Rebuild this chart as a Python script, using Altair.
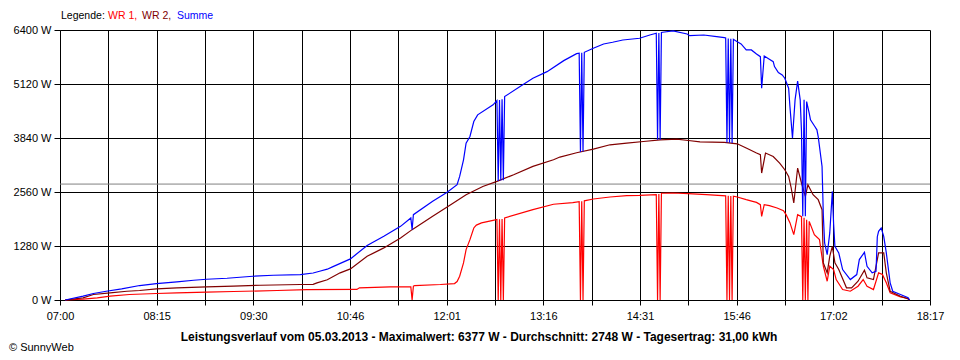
import altair as alt
import pandas as pd

# ---------------- data ----------------
WR1_TIME = ["07:04","07:18","07:29","07:39","07:54","08:15","08:31","08:54","09:15","09:49",
            "10:12","10:51","10:53","11:17","11:33","11:34","11:35","11:36","11:56","12:07",
            "12:09","12:11","12:14","12:16","12:19","12:22","12:24","12:28","12:37","12:40",
            "12:41","12:42","12:43","12:44","12:45","12:46","13:08","13:24","13:39","13:44",
            "13:45","13:46","13:47","13:48","13:55","14:08","14:21","14:31","14:44","14:45",
            "14:46","14:47","14:48","14:57","15:09","15:23","15:38","15:39","15:40","15:41",
            "15:42","15:43","15:44","15:47","15:54","15:59","16:02","16:05","16:06","16:08",
            "16:12","16:18","16:23","16:25","16:28","16:31","16:34","16:37","16:38","16:39",
            "16:40","16:41","16:42","16:43","16:47","16:51","16:54","16:57","16:59","17:02",
            "17:04","17:09","17:15","17:21","17:25","17:28","17:33","17:37","17:40","17:43",
            "17:46","17:54","18:00","18:01"]
WR1_W = [0,20,52,90,130,154,170,185,201,225,
         248,250,289,312,312,0,330,343,367,390,
         438,563,880,1195,1431,1708,1775,1827,1888,1910,
         0,1915,0,1920,0,1945,2141,2270,2310,2330,
         0,2340,0,2350,2394,2442,2472,2480,2500,0,
         2510,0,2530,2536,2520,2496,2470,0,2468,0,
         2465,0,2460,2442,2378,2338,2314,2260,1983,2260,
         2236,2181,2118,2023,1834,1550,2023,1976,0,1950,
         0,1900,0,1864,1550,1431,800,445,800,722,
         485,248,208,327,485,327,248,644,603,407,
         170,75,35,0]

WR2_TIME = ["07:04","07:18","07:26","07:39","07:52","08:02","08:15","08:31","08:54","09:15",
            "09:36","10:07","10:17","10:20","10:28","10:38","10:46","10:59","11:12","11:25",
            "11:34","11:50","12:04","12:16","12:29","12:40","12:53","13:08","13:24","13:29",
            "13:42","13:55","14:08","14:21","14:34","14:47","15:00","15:09","15:18","15:37",
            "15:47","15:54","16:02","16:05","16:06","16:09","16:15","16:20","16:24","16:27",
            "16:29","16:31","16:33","16:34","16:37","16:40","16:42","16:46","16:50","16:53",
            "16:54","16:57","16:59","17:01","17:03","17:06","17:12","17:16","17:21","17:26",
            "17:28","17:33","17:37","17:41","17:43","17:46","17:54","18:00","18:01"]
WR2_W = [0,52,130,170,208,225,265,289,312,327,
         350,367,370,407,480,644,738,1036,1235,1472,
         1668,1983,2260,2496,2692,2811,2969,3166,3324,3388,
         3490,3577,3679,3719,3757,3797,3814,3781,3750,3734,
         3703,3601,3483,3443,3010,3483,3402,3246,3088,2929,
         2655,2300,2851,3128,2773,2456,2733,2496,2378,2141,
         880,644,1036,1273,880,722,289,289,445,705,
         525,485,1117,1117,644,208,90,28,0]

SUM_TIME = ["07:04","07:18","07:26","07:36","07:48","08:02","08:15","08:31","08:44","08:54",
            "09:10","09:30","09:46","10:07","10:17","10:22","10:28","10:32","10:46","10:59",
            "11:12","11:25","11:33","11:34","11:35","11:50","12:01","12:09","12:11","12:14",
            "12:16","12:19","12:22","12:25","12:37","12:40","12:41","12:42","12:43","12:44",
            "12:45","12:46","12:58","13:08","13:19","13:32","13:42","13:44","13:45","13:46",
            "13:47","13:48","13:55","14:03","14:10","14:18","14:31","14:39","14:44","14:45",
            "14:46","14:47","14:48","14:49","14:57","15:08","15:10","15:21","15:31","15:37",
            "15:38","15:39","15:40","15:41","15:42","15:43","15:44","15:47","15:50","15:54",
            "15:58","16:02","16:05","16:06","16:08","16:12","16:15","16:16","16:19","16:22",
            "16:24","16:27","16:28","16:30","16:32","16:34","16:36","16:37","16:38","16:39",
            "16:40","16:41","16:43","16:44","16:47","16:49","16:50","16:53","16:54","16:55",
            "16:57","16:59","17:01","17:02","17:03","17:06","17:09","17:15","17:20","17:22",
            "17:26","17:28","17:32","17:35","17:36","17:37","17:39","17:41","17:43","17:46",
            "17:48","17:54","18:00","18:01"]
SUM_W = [0,90,154,208,265,343,390,430,468,492,
         516,563,587,603,640,681,730,785,975,1290,
         1510,1746,1945,1668,2023,2338,2550,2733,2929,3324,
         3719,3875,4230,4389,4626,4727,2820,4740,2830,4760,
         2840,4822,5058,5257,5413,5674,5840,5850,3510,5860,
         3520,5872,5967,6069,6109,6163,6204,6282,6322,3797,
         6330,3800,6340,6346,6377,6305,6265,6282,6242,6218,
         6210,3734,6200,3730,6190,3720,6180,6123,6069,5927,
         5927,5832,5768,5021,5785,5707,5650,5532,5390,5335,
         5257,5021,4585,3838,4744,5190,4744,3994,1983,4744,
         1983,4704,4429,4271,4130,4034,3875,3166,2000,1353,
         1077,1590,2574,1800,1273,1117,722,485,603,958,
         1131,800,644,681,1500,1628,1708,1510,1117,407,
         208,130,52,0]

SERIES = ["WR 1", "WR 2", "Summe"]
COLORS = ["#FF0000", "#800000", "#0000FF"]
TICK_LABELS = ["07:00","08:15","09:30","10:46","12:01","13:16","14:31","15:46","17:02","18:17"]
Y_TICKS = [0, 1280, 2560, 3840, 5120, 6400]
AVERAGE_W = 2748
LEGEND_PREFIX = "Legende:"
LEGEND_ITEMS = ["WR 1,", "WR 2,", "Summe"]
FOOTER = ("Leistungsverlauf vom 05.03.2013 - Maximalwert: 6377 W - Durchschnitt: 2748 W"
          " - Tagesertrag: 31,00 kWh")
COPYRIGHT = "© SunnyWeb"

# ---------------- table ----------------
def to_min(t):
    h, m = t.split(":")
    return int(h) * 60 + int(m)

rows = []
for name, times, vals in [("WR 1", WR1_TIME, WR1_W), ("WR 2", WR2_TIME, WR2_W), ("Summe", SUM_TIME, SUM_W)]:
    for i, (t, v) in enumerate(zip(times, vals)):
        rows.append({"series": name, "min": to_min(t), "W": v, "i": i})
df = pd.DataFrame(rows)

X0 = to_min(TICK_LABELS[0])
X1 = to_min(TICK_LABELS[-1])
STEP = (X1 - X0) / 18
x_values = [X0 + k * STEP for k in range(19)]
labels_js = "[" + ",".join("'" + s + "'" for s in TICK_LABELS) + "]"
label_expr = (f"(round((datum.value-{X0})/{STEP}) % 2 == 0) ? "
              f"{labels_js}[round((datum.value-{X0})/{STEP})/2] : ''")

FONT = "Liberation Sans"

x_enc = alt.X("min:Q", scale=alt.Scale(domain=[X0, X1], nice=False, zero=False),
              axis=alt.Axis(values=x_values, labelExpr=label_expr, title=None, grid=True,
                            tickSize=5, labelPadding=5, labelFlush=False, labelOverlap=False))
y_enc = alt.Y("W:Q", scale=alt.Scale(domain=[0, 6400], nice=False),
              axis=alt.Axis(values=Y_TICKS, labelExpr="datum.value + ' W'", title=None,
                            grid=True, tickSize=6, labelPadding=3))

avg = alt.Chart(pd.DataFrame({"W": [AVERAGE_W]})).mark_rule(
    color="#808080", strokeWidth=1).encode(y=y_enc)

lines = []
for name, col in zip(SERIES, COLORS):
    lines.append(
        alt.Chart(df).transform_filter(alt.datum.series == name)
        .mark_line(color=col, strokeWidth=1.2, interpolate="linear")
        .encode(x=x_enc, y=y_enc, order="i:Q")
    )

def txt(s, x, y, color="#000000", size=11, bold=False, align="left"):
    return alt.Chart(pd.DataFrame({"t": [s]})).mark_text(
        align=align, baseline="alphabetic", font=FONT, fontSize=size,
        fontWeight="bold" if bold else "normal", color=color
    ).encode(x=alt.value(x), y=alt.value(y), text="t:N")

texts = [
    txt(LEGEND_PREFIX, 1, -11, size=10.5),
    txt(LEGEND_ITEMS[0], 48, -11, COLORS[0], size=10.5),
    txt(LEGEND_ITEMS[1], 82, -11, COLORS[1], size=10.5),
    txt(LEGEND_ITEMS[2], 117, -11, COLORS[2], size=10.5),
    txt(FOOTER, 419, 311, bold=True, align="center", size=12),
    txt(COPYRIGHT, -51, 321),
]

chart = alt.layer(avg, *lines, *texts).properties(
    width=870, height=270,
    padding={"left": 52, "top": 22, "right": 22, "bottom": 52},
    autosize=alt.AutoSizeParams(type="none"),
    background="white",
).configure_view(stroke=None).configure_axis(
    gridColor="#000000", gridOpacity=1, gridWidth=1,
    domainColor="#000000", domainWidth=1,
    tickColor="#000000", tickWidth=1,
    labelColor="#000000", labelFont=FONT, labelFontSize=11,
)

chart.save("out.html", embed_options={"renderer": "svg", "actions": False})
